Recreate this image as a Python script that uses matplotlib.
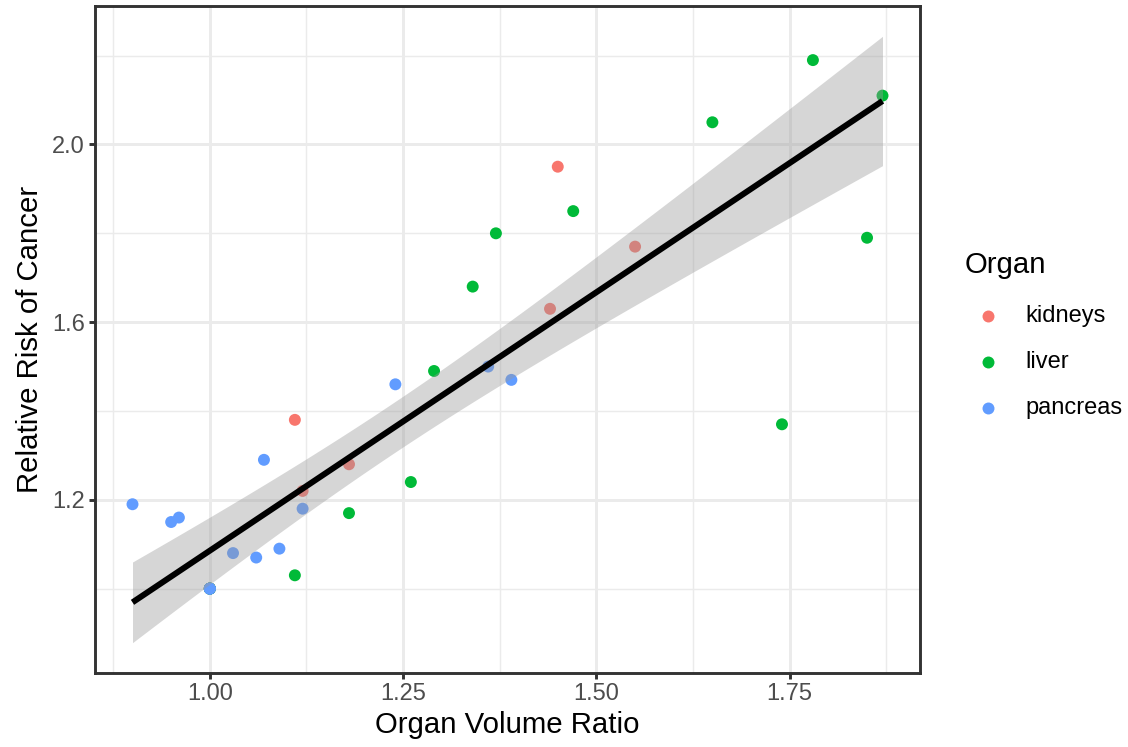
import numpy as np
import matplotlib
matplotlib.use("Agg")
import matplotlib.pyplot as plt
from matplotlib.lines import Line2D

# Data
ORGANS = ["kidneys", "liver", "pancreas"]
COLORS = ["#F8766D", "#00BA38", "#619CFF"]

# each organ has three reference points stacked at (1.00, 1.00)
kidneys_x = [1.00, 1.00, 1.00, 1.11, 1.12, 1.18, 1.44, 1.45, 1.55]
kidneys_y = [1.00, 1.00, 1.00, 1.38, 1.22, 1.28, 1.63, 1.95, 1.77]

liver_x = [1.00, 1.00, 1.00, 1.11, 1.18, 1.26, 1.29, 1.34, 1.37, 1.47, 1.65, 1.74,
           1.78, 1.85, 1.87]
liver_y = [1.00, 1.00, 1.00, 1.03, 1.17, 1.24, 1.49, 1.68, 1.80, 1.85, 2.05, 1.37,
           2.19, 1.79, 2.11]

pancreas_x = [0.90, 0.95, 0.96, 1.00, 1.00, 1.00, 1.03, 1.06, 1.07, 1.09, 1.12,
              1.24, 1.36, 1.39]
pancreas_y = [1.19, 1.15, 1.16, 1.00, 1.00, 1.00, 1.08, 1.07, 1.29, 1.09, 1.18,
              1.46, 1.50, 1.47]

X_TICKS = [1.00, 1.25, 1.50, 1.75]
X_TICK_LABELS = ["1.00", "1.25", "1.50", "1.75"]
Y_TICKS = [1.2, 1.6, 2.0]
Y_TICK_LABELS = ["1.2", "1.6", "2.0"]

# t quantile (0.975, df = n - 2 = 36) for the 95% band, like geom_smooth(method="lm")
T_CRIT = 2.028

plt.rcParams["font.family"] = ["Liberation Sans", "DejaVu Sans"]
TITLE_SIZE = 21.2
TEXT_SIZE = 17.0

xs_all = np.array(kidneys_x + liver_x + pancreas_x)
ys_all = np.array(kidneys_y + liver_y + pancreas_y)
series = [(kidneys_x, kidneys_y), (liver_x, liver_y), (pancreas_x, pancreas_y)]

# --- linear fit + confidence band ---
n = len(xs_all)
slope, intercept = np.polyfit(xs_all, ys_all, 1)
resid = ys_all - (slope * xs_all + intercept)
s = np.sqrt(np.sum(resid ** 2) / (n - 2))
xbar = xs_all.mean()
sxx = np.sum((xs_all - xbar) ** 2)
grid = np.linspace(xs_all.min(), xs_all.max(), 80)
fit = slope * grid + intercept
se = s * np.sqrt(1.0 / n + (grid - xbar) ** 2 / sxx)
lo, hi = fit - T_CRIT * se, fit + T_CRIT * se

fig = plt.figure(figsize=(11.28, 7.47), dpi=100)
ax = fig.add_axes([95 / 1128, 1 - 673 / 747, 825 / 1128, 667 / 747])

# points first, ribbon on top (as ggplot draws layers)
for (px, py), c in zip(series, COLORS):
    ax.scatter(px, py, s=74, color=c, edgecolors="none", zorder=3)
ax.fill_between(grid, lo, hi, color="#999999", alpha=0.4, linewidth=0, zorder=4)
ax.plot(grid, fit, color="black", linewidth=4.3, solid_capstyle="butt", zorder=5)

# limits with ggplot's 5% expansion
x0, x1 = xs_all.min(), xs_all.max()
dx = (x1 - x0) * 0.05
ax.set_xlim(x0 - dx, x1 + dx)
y0 = min(ys_all.min(), lo.min())
y1 = max(ys_all.max(), hi.max())
dy = (y1 - y0) * 0.05
ax.set_ylim(y0 - dy, y1 + dy)

# grid (theme_bw)
for v in [0.875, 1.125, 1.375, 1.625, 1.875]:
    ax.axvline(v, color="#EBEBEB", linewidth=1.07, zorder=1)
for v in [1.0, 1.4, 1.8, 2.2]:
    ax.axhline(v, color="#EBEBEB", linewidth=1.07, zorder=1)
for v in X_TICKS:
    ax.axvline(v, color="#EBEBEB", linewidth=2.1, zorder=1)
for v in Y_TICKS:
    ax.axhline(v, color="#EBEBEB", linewidth=2.1, zorder=1)

ax.set_xticks(X_TICKS)
ax.set_xticklabels(X_TICK_LABELS)
ax.set_yticks(Y_TICKS)
ax.set_yticklabels(Y_TICK_LABELS)
ax.tick_params(axis="both", direction="out", length=4.1, width=2.1, color="#333333",
               labelsize=TEXT_SIZE, labelcolor="#4D4D4D", pad=3.3)
for sp in ax.spines.values():
    sp.set_color("#333333")
    sp.set_linewidth(2.1)
    sp.set_zorder(6)

ax.set_xlabel("Organ Volume Ratio", fontsize=TITLE_SIZE, color="black", labelpad=4)
ax.set_ylabel("Relative Risk of Cancer", fontsize=TITLE_SIZE, color="black", labelpad=6)

# legend drawn by hand to match ggplot's guide layout
fig.text(965 / 1128, 1 - 265 / 747, "Organ", fontsize=TITLE_SIZE, ha="left", va="center")
for i, (name, c) in enumerate(zip(ORGANS, COLORS)):
    yy = 1 - (316 + 46 * i) / 747
    fig.add_artist(Line2D([988 / 1128], [yy], transform=fig.transFigure, marker="o",
                          markersize=8.6, color=c, markeredgewidth=0, linestyle="none"))
    fig.text(1025 / 1128, yy, name, fontsize=TEXT_SIZE, ha="left", va="center")

fig.savefig("out.png", dpi=100)
